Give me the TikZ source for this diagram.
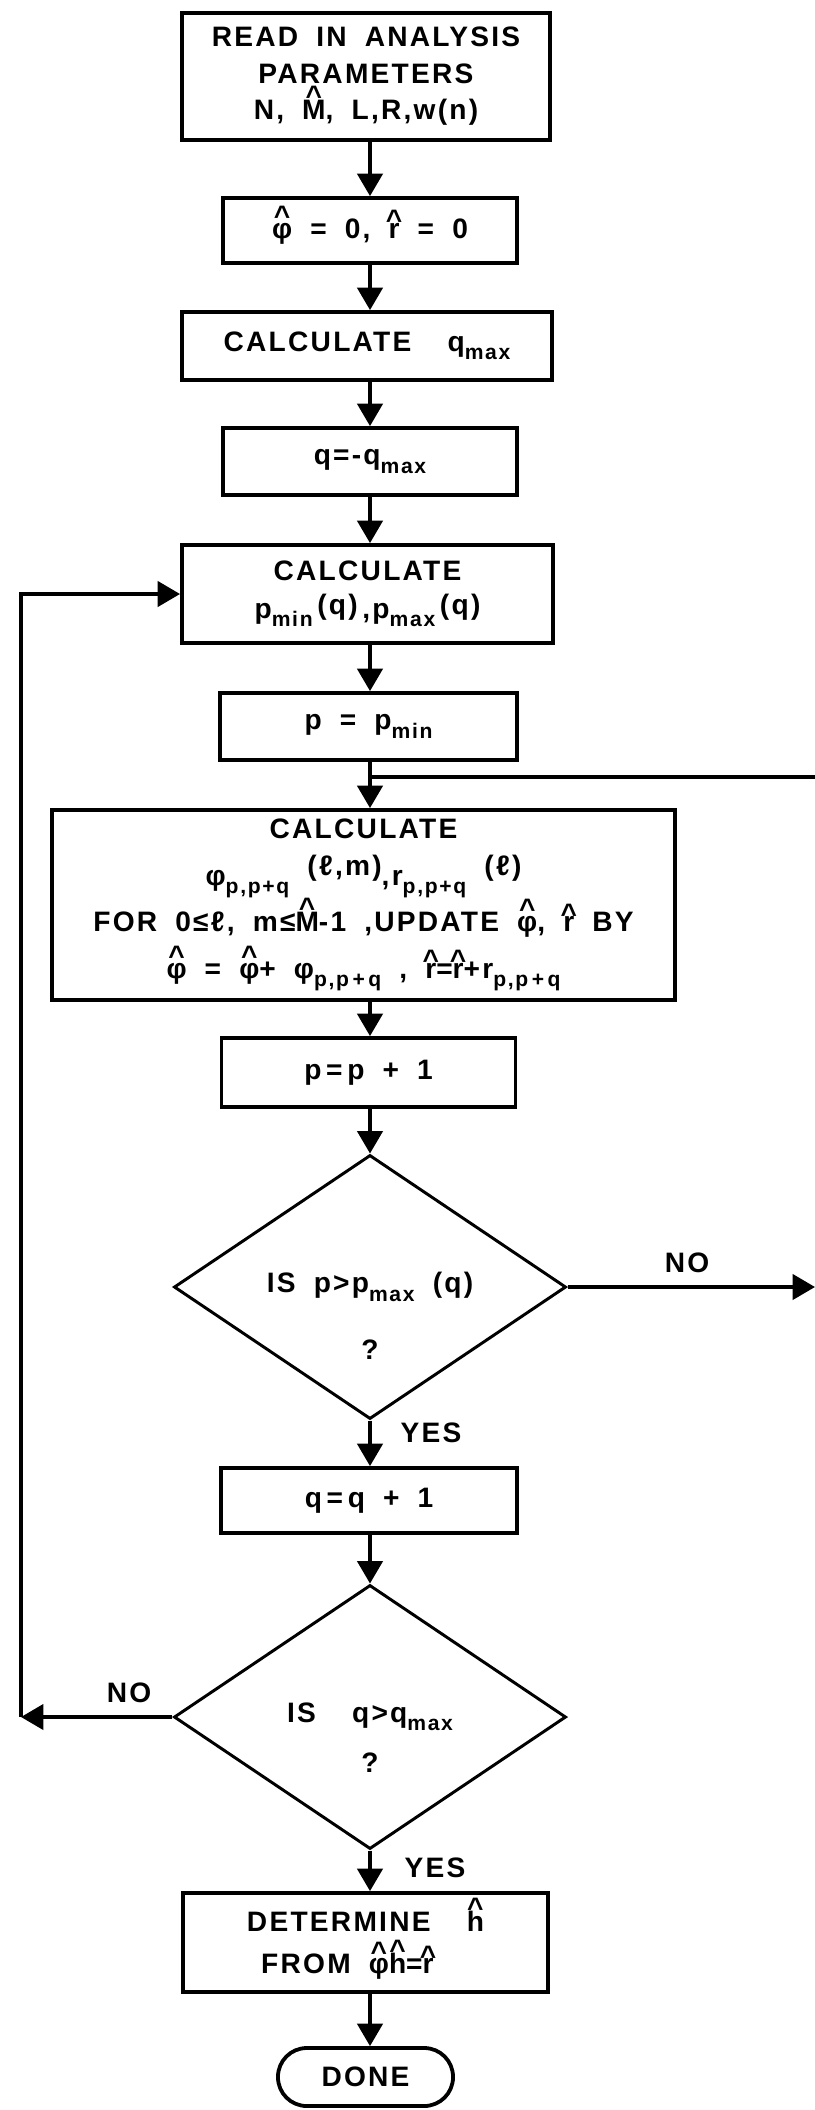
\documentclass[tikz,border=0pt]{standalone}
\usepackage{fontspec}
\setmainfont{Liberation Sans}[LetterSpace=8,WordSpace=1.8]
\usetikzlibrary{arrows.meta,shapes.geometric,calc,positioning}
\newcommand{\hatof}[2][0.3em]{\ooalign{#2\cr\hidewidth\raisebox{#1}{\char"5E}\hidewidth\cr}}
\newcommand{\lowtxt}[1]{\raisebox{-0.3em}{\fontsize{15}{15}\selectfont #1}}

\begin{document}
\begin{tikzpicture}[x=0.025cm,y=-0.025cm,
  box/.style={draw,line width=2.7pt,inner sep=0pt,align=center,
    font=\fontsize{20}{26}\selectfont\bfseries},
  decision/.style={draw,diamond,shape aspect=1.48,line width=2.1pt,inner sep=0pt,
    minimum width=9.8cm,minimum height=6.6cm,font=\fontsize{20}{26}\selectfont\bfseries},
  terminal/.style={draw,line width=2.7pt,rounded corners=0.72cm,inner sep=0pt,
    minimum width=4.375cm,minimum height=1.45cm,font=\fontsize{20}{26}\selectfont\bfseries},
  lbl/.style={inner sep=0pt,font=\fontsize{20}{26}\selectfont\bfseries},
  flow/.style={line width=2.6pt,-{Triangle[length=16pt,width=18pt]}},
  wire/.style={line width=2.6pt}]

\useasboundingbox (0,0) rectangle (815,2110);

\node[box,minimum width=9.2cm,minimum height=3.175cm] (read) at (366,76.5)
  {READ\ IN\ ANALYSIS\\PARAMETERS\\N, \hatof[0.5em]{M}, L,R,w(n)};
\node[box,minimum width=7.35cm,minimum height=1.625cm] (init) at (370,230.5)
  {\hatof[0.45em]{φ} = 0, \hatof{r} = 0};
\node[box,minimum width=9.25cm,minimum height=1.7cm] (qmax) at (367,346)
  {CALCULATE\ \ q\lowtxt{max}};
\node[box,minimum width=7.35cm,minimum height=1.675cm] (qinit) at (370,461.5)
  {q=-q\lowtxt{max}};
\node[box,minimum width=9.275cm,minimum height=2.45cm,
  font=\fontsize{20}{27}\selectfont\bfseries] (prange) at (367.5,594)
  {CALCULATE\\p\lowtxt{min}\,\raisebox{0.15em}{(q)}\,,p\lowtxt{max}\,\raisebox{0.15em}{(q)}};
\node[box,minimum width=7.425cm,minimum height=1.675cm] (pinit) at (368.5,726.5)
  {p = p\lowtxt{min}};
\node[box,minimum width=15.575cm,minimum height=4.75cm,
  font=\fontsize{20}{33}\selectfont\bfseries] (accum) at (363.5,905)
  {CALCULATE\\
   φ\lowtxt{p,p+q}\ \raisebox{0.35em}{(ℓ,m)},r\lowtxt{p,p+q}\ \raisebox{0.35em}{(ℓ)}\\
   FOR 0≤ℓ, m≤\hatof[0.5em]{M}-1 ,UPDATE \hatof[0.45em]{φ}, \hatof{r}\ BY\\
   \hatof[0.45em]{φ} = \hatof[0.45em]{φ}+ φ\lowtxt{p,p\,+\,q} ,\ \hatof{r}=\hatof{r}+r\lowtxt{p,p\,+\,q}};
\node[box,minimum width=7.35cm,minimum height=1.725cm] (pstep) at (368.5,1072.5)
  {p\,=\,p + 1};
\node[decision] (ptest) at (370,1287) {IS p>p\lowtxt{max} (q)};
\node[lbl] (pask) at (370,1350) {?};
\node[box,minimum width=7.4cm,minimum height=1.625cm] (qstep) at (369,1500.5)
  {q\,=\,q + 1};
\node[decision] (qtest) at (370,1717) {IS\ \ q>q\lowtxt{max}};
\node[lbl] (qask) at (370,1763) {?};
\node[box,minimum width=9.125cm,minimum height=2.475cm,
  font=\fontsize{20}{30}\selectfont\bfseries] (solve) at (365.5,1942.5)
  {DETERMINE\ \ \hatof[0.5em]{h}\\FROM \hatof[0.45em]{φ}\hatof[0.5em]{h}=\hatof{r}\ \ \ };
\node[terminal] (done) at (365.5,2077) {DONE};

\coordinate (axis) at (370,0);
\foreach \a/\b in {read/init,init/qmax,qmax/qinit,qinit/prange,prange/pinit,
  pinit/accum,accum/pstep,pstep/ptest,ptest/qstep,qstep/qtest,qtest/solve,solve/done}{
  \draw[flow] (axis |- \a.south) -- (axis |- \b.north);
}

\coordinate (merge) at (370,777);
\coordinate (rtop) at (815,777);
\coordinate (rbot) at (815,1287);
\coordinate (lbot) at (21,1717);
\draw[wire] (rtop) -- (merge);
\draw[flow] (ptest.east) -- (rbot);
\draw[flow] (qtest.west) -- (lbot);
\draw[flow] (lbot) |- (prange.west);

\node[lbl] (noright) at (687,1263) {NO};
\node[lbl] (noleft) at (129,1693) {NO};
\node[lbl] (yesp) at (431,1433) {YES};
\node[lbl] (yesq) at (435,1868) {YES};

\end{tikzpicture}
\end{document}
